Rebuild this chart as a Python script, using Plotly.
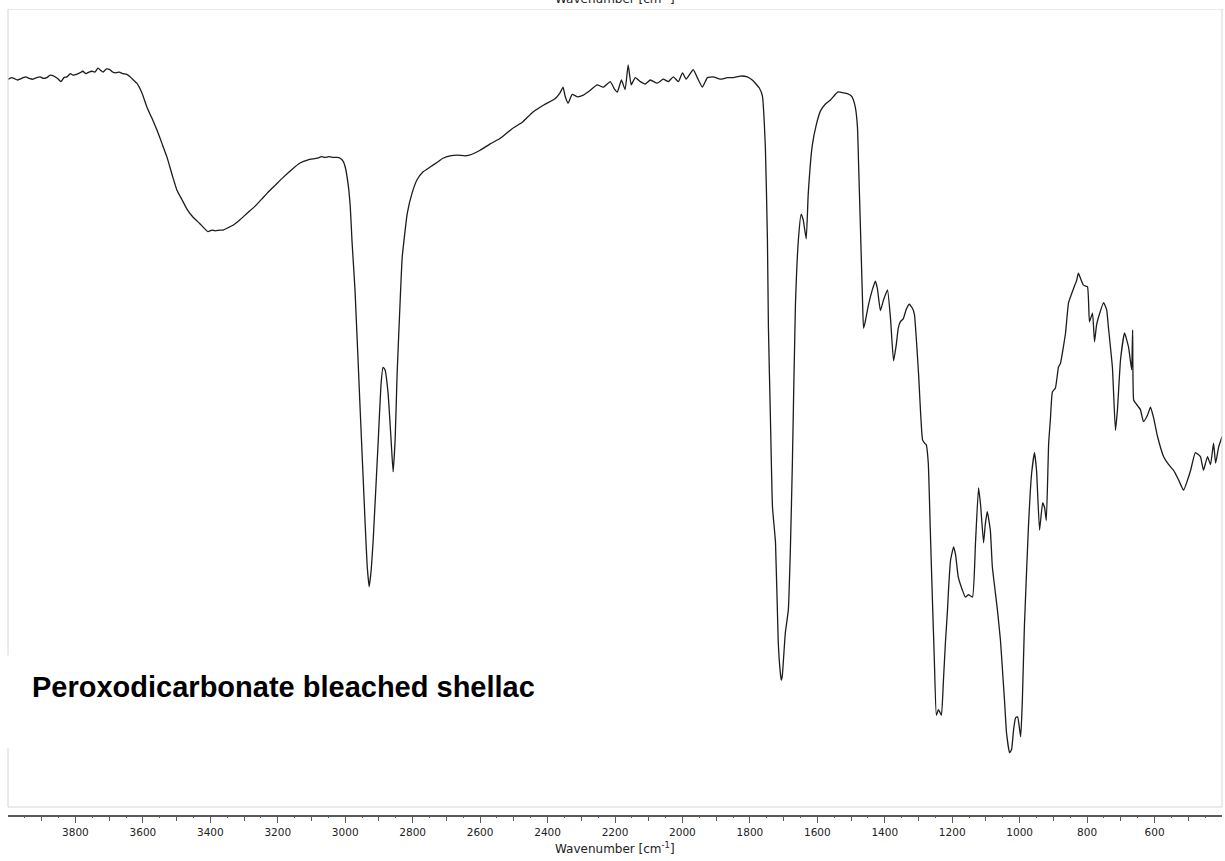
import plotly.graph_objects as go

# FTIR spectrum of peroxodicarbonate bleached shellac (transmittance, %)
wavenumber = [
    4000, 3990, 3982, 3972, 3965, 3955, 3947, 3937, 3926, 3915, 3905, 3895, 3885, 3875, 3864,
    3853, 3843, 3834, 3825, 3815, 3807, 3797, 3787, 3778, 3769, 3760, 3751, 3742, 3733, 3725,
    3718, 3708, 3698, 3690, 3680, 3670, 3659, 3648, 3638, 3628, 3618, 3603, 3588, 3573, 3558,
    3543, 3529, 3511, 3499, 3484, 3469, 3451, 3431, 3407, 3395, 3386, 3372, 3362, 3347, 3333,
    3312, 3291, 3267, 3247, 3232, 3208, 3184, 3158, 3134, 3110, 3083, 3070, 3060, 3048, 3036,
    3025, 3015, 3006, 3000, 2991, 2985, 2980, 2971, 2956, 2941, 2935, 2929, 2923, 2917, 2902,
    2894, 2888, 2882, 2873, 2864, 2858, 2852, 2846, 2837, 2831, 2816, 2802, 2787, 2769, 2748,
    2727, 2710, 2689, 2668, 2644, 2624, 2600, 2570, 2540, 2505, 2475, 2443, 2410, 2377, 2363,
    2354, 2348, 2339, 2327, 2312, 2294, 2274, 2253, 2235, 2214, 2202, 2193, 2181, 2170, 2161,
    2152, 2140, 2125, 2110, 2095, 2075, 2057, 2042, 2027, 2012, 2000, 1989, 1968, 1956, 1941,
    1926, 1909, 1888, 1867, 1849, 1828, 1808, 1793, 1784, 1772, 1763, 1754, 1748, 1745, 1739,
    1733, 1724, 1716, 1710, 1707, 1704, 1695, 1686, 1680, 1674, 1665, 1656, 1648, 1642, 1633,
    1627, 1615, 1603, 1591, 1576, 1561, 1549, 1538, 1523, 1511, 1499, 1493, 1487, 1481, 1478,
    1472, 1466, 1463, 1458, 1449, 1437, 1428, 1422, 1413, 1404, 1392, 1383, 1374, 1366, 1360,
    1354, 1345, 1336, 1327, 1318, 1312, 1300, 1288, 1282, 1277, 1271, 1265, 1259, 1253, 1247,
    1241, 1238, 1232, 1226, 1220, 1214, 1211, 1205, 1196, 1190, 1182, 1170, 1161, 1152, 1140,
    1131, 1122, 1116, 1107, 1102, 1096, 1087, 1081, 1066, 1057, 1051, 1045, 1039, 1030, 1024,
    1018, 1012, 1006, 997, 992, 986, 974, 965, 956, 950, 941, 932, 926, 921, 914,
    909, 903, 894, 885, 879, 864, 855, 840, 831, 826, 820, 811, 799, 793, 784,
    778, 772, 766, 751, 742, 737, 725, 716, 710, 701, 689, 677, 668, 665, 662,
    656, 642, 633, 621, 612, 603, 591, 573, 558, 544, 529, 514, 502, 493, 479,
    464, 455, 443, 434, 425, 419, 410, 400,
]
transmittance = [
    91.2, 91.4, 91.3, 91.1, 91.2, 91.4, 91.5, 91.3, 91.2, 91.4, 91.5, 91.3, 91.4, 91.7, 91.6,
    91.3, 90.9, 91.4, 91.5, 91.9, 91.7, 91.8, 92.0, 92.2, 91.9, 92.1, 92.2, 92.1, 92.6, 92.3,
    92.1, 92.5, 92.4, 92.1, 92.0, 92.1, 91.9, 91.8, 91.5, 91.1, 90.7, 89.5, 87.7, 86.3, 84.8,
    83.1, 81.5, 78.9, 77.3, 76.1, 74.9, 73.9, 73.1, 72.1, 72.3, 72.2, 72.3, 72.3, 72.6, 72.9,
    73.6, 74.4, 75.3, 76.2, 76.9, 77.9, 78.9, 79.9, 80.7, 81.1, 81.3, 81.5, 81.4, 81.5, 81.4,
    81.4, 81.3, 80.9, 80.2, 77.9, 75.2, 71.0, 64.8, 50.1, 35.6, 30.3, 27.6, 29.7, 33.5, 46.0,
    52.9, 55.1, 54.8, 51.9, 46.0, 42.0, 46.0, 54.4, 63.5, 68.9, 74.4, 76.9, 78.6, 79.6, 80.2,
    80.8, 81.3, 81.6, 81.7, 81.6, 81.8, 82.3, 83.1, 83.8, 85.0, 85.8, 87.1, 88.0, 88.8, 89.5,
    90.2, 89.1, 88.2, 89.3, 89.0, 89.2, 89.8, 90.5, 90.2, 90.9, 90.0, 89.6, 91.1, 89.9, 93.0,
    90.5, 91.4, 90.9, 90.6, 91.1, 90.7, 91.2, 90.9, 91.5, 90.9, 92.0, 91.2, 92.4, 91.4, 90.2,
    91.4, 91.5, 91.2, 91.4, 91.4, 91.6, 91.5, 91.1, 90.7, 90.1, 89.1, 82.5, 71.1, 60.0, 48.5,
    37.6, 33.1, 20.7, 16.9, 15.9, 16.4, 21.8, 24.7, 32.2, 43.1, 62.8, 71.2, 74.3, 73.6, 71.2,
    76.8, 82.9, 85.5, 87.2, 88.1, 88.6, 89.2, 89.6, 89.5, 89.4, 89.1, 88.6, 87.6, 85.2, 81.1,
    72.3, 63.5, 60.0, 60.8, 62.8, 64.8, 65.9, 65.0, 62.2, 63.5, 64.8, 61.2, 55.9, 57.9, 60.0,
    60.8, 61.2, 62.4, 63.0, 62.5, 61.7, 54.4, 46.0, 45.6, 45.4, 43.1, 34.7, 26.3, 18.4, 11.5,
    12.2, 12.0, 11.5, 15.9, 20.7, 24.7, 27.2, 30.9, 32.6, 31.6, 28.8, 27.2, 26.3, 26.6, 26.3,
    33.1, 40.0, 37.9, 33.1, 35.4, 37.0, 34.7, 30.1, 24.7, 20.9, 17.2, 13.4, 9.3, 6.8, 7.2,
    9.7, 11.2, 11.3, 8.8, 13.4, 22.6, 35.1, 41.6, 44.4, 42.2, 34.7, 38.1, 37.5, 35.9, 45.6,
    48.5, 52.0, 52.5, 55.1, 55.6, 59.4, 63.2, 65.0, 66.0, 66.9, 66.3, 65.4, 65.2, 60.8, 61.9,
    58.3, 60.4, 61.4, 63.2, 62.3, 60.2, 55.1, 47.2, 49.8, 56.0, 59.4, 57.6, 54.8, 59.8, 51.0,
    50.6, 49.8, 48.3, 49.1, 50.1, 48.8, 46.4, 43.9, 42.9, 42.2, 41.0, 39.7, 41.0, 42.2, 44.4,
    43.9, 42.2, 43.9, 42.9, 45.6, 43.1, 45.1, 46.4,
]

# Axis tick positions (cm-1)
label_ticks = [3800, 3600, 3400, 3200, 3000, 2800, 2600, 2400, 2200, 2000, 1800, 1600, 1400, 1200, 1000, 800, 600]
mid_ticks = [3900, 3700, 3500, 3300, 3100, 2900, 2700, 2500, 2300, 2100, 1900, 1700, 1500, 1300, 1100, 900, 700, 500]
small_ticks = [3950, 3850, 3750, 3650, 3550, 3450, 3350, 3250, 3150, 3050, 2950, 2850, 2750, 2650, 2550, 2450,
               2350, 2250, 2150, 2050, 1950, 1850, 1750, 1650, 1550, 1450, 1350, 1250, 1150, 1050, 950, 850,
               750, 650, 550, 450]

sample_name = "Peroxodicarbonate bleached shellac"
axis_title = "Wavenumber [cm<sup>-1</sup>]"

axis_grey = "#5a5a5a"
tick_font = dict(family="DejaVu Sans", size=10.5, color="#222222")
title_font = dict(family="DejaVu Sans", size=12, color="#222222")

fig = go.Figure()
fig.add_trace(go.Scatter(
    x=wavenumber, y=transmittance, mode="lines",
    line=dict(color="#1c1c1c", width=1.3, shape="spline", smoothing=0.4),
    showlegend=False, hoverinfo="skip",
))
# empty trace so the secondary tick axis is drawn
fig.add_trace(go.Scatter(x=[4000, 400], y=[None, None], xaxis="x2", mode="lines",
                         showlegend=False, hoverinfo="skip"))

fig.update_layout(
    width=1225, height=861,
    margin=dict(l=8, r=3, t=9, b=46),
    paper_bgcolor="white", plot_bgcolor="white",
    xaxis=dict(
        range=[4000, 400], showgrid=False, zeroline=False,
        showline=True, linecolor=axis_grey, linewidth=2,
        ticks="outside", ticklen=6, tickwidth=1, tickcolor=axis_grey,
        tickmode="array", tickvals=label_ticks, ticktext=[str(v) for v in label_ticks],
        tickfont=tick_font,
        minor=dict(tickmode="array", tickvals=mid_ticks, ticks="outside", ticklen=4,
                   tickwidth=1, tickcolor=axis_grey, showgrid=False),
    ),
    xaxis2=dict(
        range=[4000, 400], overlaying="x", anchor="y", side="bottom",
        showgrid=False, zeroline=False, showline=False,
        ticks="outside", ticklen=2, tickwidth=1, tickcolor=axis_grey,
        tickmode="array", tickvals=small_ticks, showticklabels=False,
    ),
    yaxis=dict(range=[-1.0025, 100], visible=False, fixedrange=True),
    shapes=[
        # light frame of the spectrum panel
        dict(type="rect", xref="paper", yref="y", x0=0, x1=1, y0=0, y1=100,
             line=dict(color="#d6d6d6", width=1), fillcolor="rgba(0,0,0,0)", layer="above"),
        # white backing behind the sample label
        dict(type="rect", xref="paper", yref="y", x0=-0.01, x1=0.462, y0=7.4, y1=19.0,
             line=dict(width=0), fillcolor="white", layer="above"),
    ],
    annotations=[
        dict(text="<b>" + sample_name + "</b>", xref="paper", yref="y", x=0.0181, y=15.0,
             xanchor="left", yanchor="middle", showarrow=False,
             font=dict(family="Liberation Sans, Arial", size=29, color="black")),
        dict(text=axis_title, xref="paper", yref="paper", x=0.5, y=-0.0409,
             xanchor="center", yanchor="middle", showarrow=False, font=title_font),
        dict(text=axis_title, xref="paper", yref="paper", x=0.5, y=1.0136,
             xanchor="center", yanchor="middle", showarrow=False, font=title_font),
    ],
)

fig.write_html("out.html")
